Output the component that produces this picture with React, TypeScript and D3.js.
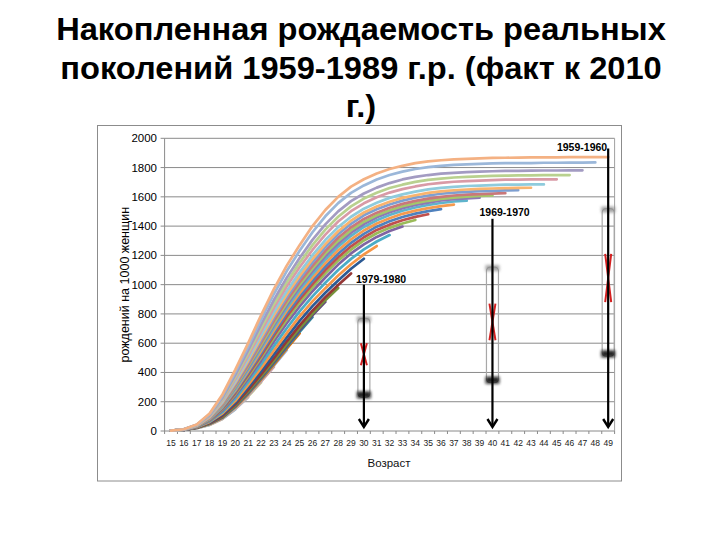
import React from "react";
import { scaleBand, scaleLinear, line } from "d3";

// Ages on the category axis
const ages = [15, 16, 17, 18, 19, 20, 21, 22, 23, 24, 25, 26, 27, 28, 29, 30, 31, 32, 33, 34, 35, 36, 37, 38, 39, 40, 41, 42, 43, 44, 45, 46, 47, 48, 49];
const yTicks = [0, 200, 400, 600, 800, 1000, 1200, 1400, 1600, 1800, 2000];

// Cumulative births per 1000 women, each cohort from age 15 to its last observed age
const c1959 = [2, 12, 45, 120, 250, 420, 600, 790, 970, 1130, 1270, 1400, 1510, 1600, 1670, 1720, 1760, 1790, 1812, 1830, 1842, 1850, 1856, 1860, 1863, 1866, 1867, 1868, 1869, 1870, 1870, 1871, 1871, 1872, 1872];
const c1960 = [2, 12, 43, 115, 240, 403, 577, 761, 936, 1093, 1231, 1358, 1467, 1557, 1627, 1678, 1719, 1749, 1772, 1790, 1803, 1811, 1818, 1822, 1825, 1828, 1830, 1830, 1831, 1833, 1833, 1834, 1834, 1835];
const c1961 = [2, 11, 42, 110, 228, 384, 551, 727, 896, 1048, 1182, 1306, 1412, 1501, 1571, 1623, 1663, 1694, 1719, 1736, 1749, 1758, 1764, 1769, 1772, 1775, 1777, 1778, 1779, 1780, 1780, 1781, 1781];
const c1962 = [2, 11, 40, 106, 220, 370, 532, 703, 868, 1017, 1149, 1270, 1376, 1464, 1535, 1588, 1628, 1660, 1683, 1702, 1716, 1725, 1732, 1737, 1740, 1743, 1745, 1746, 1747, 1748, 1748, 1749];
const c1963 = [2, 11, 39, 102, 212, 356, 514, 680, 841, 989, 1119, 1237, 1342, 1431, 1502, 1556, 1597, 1629, 1653, 1671, 1686, 1696, 1703, 1708, 1711, 1714, 1717, 1718, 1719, 1719, 1720];
const c1964 = [2, 10, 38, 99, 203, 342, 495, 655, 813, 957, 1085, 1201, 1305, 1393, 1464, 1519, 1560, 1593, 1617, 1636, 1651, 1661, 1668, 1674, 1677, 1680, 1683, 1684, 1685, 1685];
const c1965 = [2, 10, 37, 95, 196, 331, 480, 636, 791, 933, 1060, 1174, 1277, 1365, 1437, 1493, 1534, 1567, 1593, 1611, 1627, 1637, 1645, 1650, 1654, 1657, 1659, 1661, 1662];
const c1966 = [2, 10, 36, 93, 191, 321, 467, 620, 773, 914, 1039, 1152, 1256, 1344, 1416, 1474, 1515, 1548, 1574, 1594, 1609, 1621, 1629, 1634, 1639, 1641, 1644, 1646];
const c1967 = [2, 10, 35, 90, 184, 311, 453, 603, 753, 892, 1017, 1128, 1231, 1320, 1392, 1449, 1492, 1526, 1552, 1572, 1588, 1600, 1609, 1615, 1619, 1622, 1625];
const c1968 = [2, 10, 34, 88, 179, 303, 442, 588, 736, 875, 999, 1109, 1212, 1299, 1372, 1430, 1474, 1508, 1536, 1557, 1573, 1586, 1595, 1601, 1606, 1609];
const c1969 = [2, 10, 34, 86, 174, 295, 432, 575, 722, 859, 983, 1092, 1194, 1281, 1355, 1414, 1460, 1495, 1523, 1545, 1561, 1575, 1584, 1590, 1595];
const c1970 = [2, 9, 33, 83, 169, 286, 420, 561, 705, 841, 964, 1071, 1172, 1260, 1334, 1394, 1440, 1476, 1505, 1527, 1544, 1558, 1568, 1574];
const c1971 = [2, 9, 32, 81, 164, 277, 408, 545, 687, 822, 942, 1048, 1147, 1235, 1309, 1370, 1418, 1454, 1484, 1506, 1523, 1537, 1547];
const c1972 = [2, 9, 31, 78, 158, 268, 396, 530, 669, 802, 920, 1026, 1124, 1211, 1286, 1347, 1396, 1433, 1462, 1485, 1502, 1516];
const c1973 = [2, 9, 30, 76, 153, 259, 384, 515, 652, 782, 899, 1004, 1100, 1187, 1262, 1324, 1374, 1410, 1440, 1463, 1481];
const c1974 = [2, 9, 30, 74, 148, 251, 373, 501, 635, 762, 878, 982, 1077, 1164, 1239, 1302, 1351, 1388, 1418, 1442];
const c1975 = [2, 8, 28, 70, 140, 239, 357, 481, 611, 736, 851, 955, 1049, 1137, 1213, 1275, 1326, 1366, 1397];
const c1976 = [2, 8, 27, 66, 130, 222, 335, 455, 580, 702, 817, 920, 1013, 1100, 1176, 1241, 1295, 1339];
const c1977 = [2, 8, 26, 62, 121, 206, 315, 430, 550, 669, 783, 886, 976, 1062, 1139, 1207, 1264];
const c1978 = [2, 8, 25, 58, 112, 193, 298, 408, 523, 640, 753, 853, 945, 1029, 1109, 1177];
const c1979 = [2, 8, 24, 54, 104, 182, 281, 387, 498, 613, 722, 822, 914, 998, 1077];
const c1980 = [2, 7, 23, 52, 98, 176, 271, 374, 481, 594, 702, 802, 894, 977];
const c1981 = [2, 7, 22, 51, 96, 172, 265, 366, 472, 583, 690, 790, 882];
const c1982 = [2, 7, 22, 49, 93, 168, 259, 359, 463, 573, 678, 778];
const c1983 = [2, 7, 22, 48, 91, 164, 253, 352, 454, 562, 667];
const c1984 = [2, 7, 21, 47, 89, 161, 247, 345, 446, 552];
const c1985 = [2, 7, 21, 46, 87, 157, 242, 338, 438];
const c1986 = [2, 7, 20, 45, 86, 154, 237, 331];
const c1987 = [2, 7, 20, 43, 84, 150, 231];
const c1988 = [2, 7, 20, 42, 83, 147];
const c1989 = [2, 7, 19, 41, 81];

const cohortYears = [1959, 1960, 1961, 1962, 1963, 1964, 1965, 1966, 1967, 1968, 1969, 1970, 1971, 1972, 1973, 1974, 1975, 1976, 1977, 1978, 1979, 1980, 1981, 1982, 1983, 1984, 1985, 1986, 1987, 1988, 1989];
const cohortSeries = [c1959, c1960, c1961, c1962, c1963, c1964, c1965, c1966, c1967, c1968, c1969, c1970, c1971, c1972, c1973, c1974, c1975, c1976, c1977, c1978, c1979, c1980, c1981, c1982, c1983, c1984, c1985, c1986, c1987, c1988, c1989];
const cohortColors = [
  "#F4B183", "#9BB7D9", "#A39BC2", "#B9D18F", "#D99AA6", "#8FCBDC", "#F9B46E", "#7E9FD1",
  "#C9787A", "#A5C66A", "#8E78B5", "#5FB4CC", "#F59A4E", "#4F81BD", "#C0504D", "#9BBB59",
  "#8064A2", "#4BACC6", "#F79646", "#2C5A94", "#953735", "#77933C", "#604A7B", "#31859C",
  "#E46C0A", "#95B3D7", "#D99694", "#C3D69B", "#B3A2C7", "#93CDDD", "#FAC090"
];

// Annotated cohorts: arrow age, label, arrow top value, spread box and red mark
const markerAges = [30, 40, 49];
const markerLabels = ["1979-1980", "1969-1970", "1959-1960"];
const markerLabelValues = [1010, 1467, 1911];
const markerTopValues = [1000, 1450, 1930];
const boxLow = [230, 330, 510];
const boxHigh = [770, 1120, 1520];
const redLow = [450, 620, 880];
const redHigh = [600, 870, 1210];

const titleLines = ["Накопленная рождаемость реальных", "поколений 1959-1989 г.р. (факт к 2010", "г.)"];

export default function App() {
  const width = 720;
  const height = 540;
  const plot = { left: 164.6, right: 614.6, top: 138.3, bottom: 431 };
  const font = "'Liberation Sans', Arial, sans-serif";

  const x = scaleBand<number>().domain(ages).range([plot.left, plot.right]).padding(0);
  const y = scaleLinear().domain([0, 2000]).range([plot.bottom, plot.top]);
  const cx = (age: number) => (x(age) ?? 0) + x.bandwidth() / 2;
  const path = line<number>()
    .x((_, i) => cx(ages[i]))
    .y((v) => y(v));

  return (
    <div style={{ position: "absolute", left: 0, top: 0 }}>
      <svg width={width} height={height} viewBox={`0 0 ${width} ${height}`} style={{ display: "block", background: "#fff" }}>
        <defs>
          <filter id="soft" x="-50%" y="-200%" width="200%" height="500%">
            <feGaussianBlur stdDeviation="1.6" />
          </filter>
        </defs>

        <g transform="translate(361, 0) scale(1.07, 1)">
          {titleLines.map((t, i) => (
            <text key={t} x={0} y={40.5 + i * 38.3} textAnchor="middle" fontFamily={font} fontWeight="bold" fontSize={30.5} fill="#000">
              {t}
            </text>
          ))}
        </g>

        <rect x={97.5} y={125.5} width={524} height={355.5} fill="none" stroke="#8c8c8c" strokeWidth={1} />

        {yTicks.map((t) => (
          <g key={t}>
            <line x1={plot.left} x2={plot.right} y1={y(t)} y2={y(t)} stroke="#8a8a8a" strokeWidth={1} />
            <line x1={plot.left - 4} x2={plot.left} y1={y(t)} y2={y(t)} stroke="#8a8a8a" strokeWidth={1} />
            <text x={157} y={y(t) + 4} textAnchor="end" fontFamily={font} fontSize={11.5} fill="#000">
              {t}
            </text>
          </g>
        ))}
        <line x1={plot.left} x2={plot.left} y1={plot.top} y2={plot.bottom} stroke="#8a8a8a" />
        <line x1={plot.right} x2={plot.right} y1={plot.top} y2={plot.bottom} stroke="#a0a0a0" />

        {ages.map((a) => (
          <g key={a}>
            <line x1={x(a) ?? 0} x2={x(a) ?? 0} y1={plot.bottom} y2={plot.bottom + 3} stroke="#8a8a8a" />
            <text x={cx(a)} y={446} textAnchor="middle" fontFamily={font} fontSize={8.5} fill="#222">
              {a}
            </text>
          </g>
        ))}
        <line x1={plot.right} x2={plot.right} y1={plot.bottom} y2={plot.bottom + 3} stroke="#8a8a8a" />

        <text x={389} y={467} textAnchor="middle" fontFamily={font} fontSize={11.5} fill="#111">
          Возраст
        </text>
        <text
          transform={`translate(129, ${(plot.top + plot.bottom) / 2}) rotate(-90)`}
          textAnchor="middle"
          fontFamily={font}
          fontSize={12.5}
          fill="#000"
        >
          рождений на 1000 женщин
        </text>

        {cohortSeries
          .map((vals, i) => ({ vals, i }))
          .reverse()
          .map(({ vals, i }) => (
            <path key={cohortYears[i]} d={path(vals) ?? ""} fill="none" stroke={cohortColors[i]} strokeWidth={2.7} strokeLinejoin="round" strokeLinecap="round" />
          ))}

        {markerAges.map((a, i) => {
          const mx = cx(a);
          const bTop = y(boxHigh[i]);
          const bBot = y(boxLow[i]);
          const rTop = y(redHigh[i]);
          const rBot = y(redLow[i]);
          const endY = plot.bottom - 4;
          const last = i === markerAges.length - 1;
          return (
            <g key={a}>
              <rect x={mx - 6} y={bTop} width={12} height={bBot - bTop} rx={4} fill="none" stroke="#a8a8a8" strokeWidth={1.2} />
              <rect x={mx - 7} y={bTop - 2} width={14} height={6} fill="#888" opacity={0.75} filter="url(#soft)" />
              <rect x={mx - 7} y={bBot - 6} width={14} height={7} fill="#111" opacity={0.9} filter="url(#soft)" />
              <line x1={mx - 3} y1={rTop} x2={mx + 3} y2={rBot} stroke="#d42020" strokeWidth={2} />
              <line x1={mx + 3} y1={rTop} x2={mx - 3} y2={rBot} stroke="#d42020" strokeWidth={2} />
              <line x1={mx} x2={mx} y1={y(markerTopValues[i])} y2={endY} stroke="#000" strokeWidth={2.2} />
              <path d={`M${mx - 5},${endY - 8} L${mx},${endY} L${mx + 5},${endY - 8}`} fill="none" stroke="#000" strokeWidth={2.4} />
              <text
                x={last ? mx - 1 : mx - (i === 0 ? 8 : 13)}
                y={y(markerLabelValues[i])}
                textAnchor={last ? "end" : "start"}
                fontFamily={font}
                fontWeight="bold"
                fontSize={10.5}
                fill="#000"
              >
                {markerLabels[i]}
              </text>
            </g>
          );
        })}
      </svg>
    </div>
  );
}
